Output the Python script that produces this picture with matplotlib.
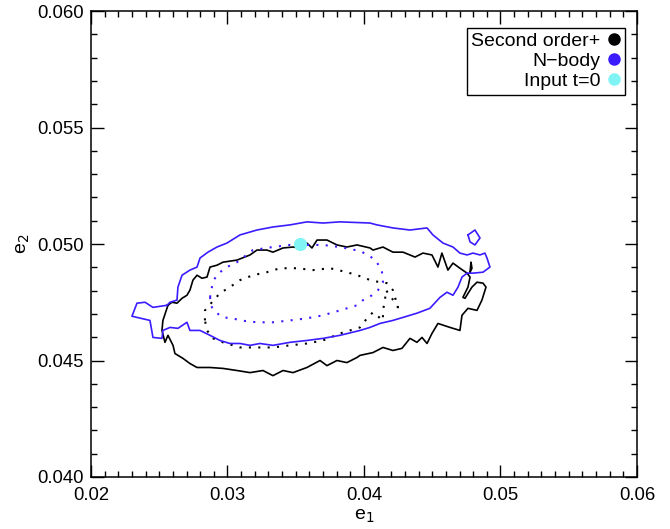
import numpy as np
import matplotlib
matplotlib.use('Agg')
import matplotlib.pyplot as plt
from matplotlib.lines import Line2D
from matplotlib.ticker import MultipleLocator

plt.rcParams['font.family'] = ['Liberation Sans', 'DejaVu Sans']

# contour traces (e1, e2)
nbody_outer_e1 = [0.02557, 0.02579, 0.02630, 0.02637, 0.02667, 0.02725, 0.02777, 0.02799, 0.02857, 0.02923,
                  0.02996, 0.03092, 0.03216, 0.03333, 0.03458, 0.03582, 0.03700, 0.03824, 0.04044, 0.04095,
                  0.04212, 0.04337, 0.04462, 0.04505, 0.04579, 0.04652, 0.04703, 0.04755, 0.04799, 0.04850,
                  0.04886, 0.04901, 0.04923, 0.04872, 0.04799, 0.04755, 0.04718, 0.04689, 0.04652, 0.04608,
                  0.04557, 0.04483, 0.04388, 0.04286, 0.04212, 0.04117, 0.04044, 0.03971, 0.03824, 0.03700,
                  0.03582, 0.03458, 0.03333, 0.03238, 0.03165, 0.03092, 0.03018, 0.02945, 0.02872, 0.02799,
                  0.02725, 0.02703, 0.02637, 0.02579, 0.02527, 0.02520, 0.02454, 0.02432, 0.02300, 0.02337,
                  0.02396, 0.02454, 0.02557]
nbody_outer_e2 = [0.04737, 0.04750, 0.04759, 0.04815, 0.04866, 0.04888, 0.04901, 0.04940, 0.04965, 0.04987,
                  0.05004, 0.05039, 0.05060, 0.05073, 0.05082, 0.05095, 0.05090, 0.05095, 0.05090, 0.05082,
                  0.05069, 0.05060, 0.05069, 0.05039, 0.05004, 0.04987, 0.04961, 0.04953, 0.04961, 0.04953,
                  0.04961, 0.04940, 0.04901, 0.04879, 0.04875, 0.04875, 0.04858, 0.04815, 0.04780, 0.04793,
                  0.04771, 0.04724, 0.04703, 0.04685, 0.04672, 0.04659, 0.04642, 0.04629, 0.04608, 0.04595,
                  0.04586, 0.04578, 0.04565, 0.04573, 0.04565, 0.04573, 0.04573, 0.04586, 0.04608, 0.04629,
                  0.04629, 0.04664, 0.04638, 0.04642, 0.04629, 0.04595, 0.04599, 0.04672, 0.04690, 0.04746,
                  0.04750, 0.04728, 0.04737]

nbody_islet_e1 = [0.04762, 0.04813, 0.04850, 0.04813, 0.04777, 0.04762]
nbody_islet_e2 = [0.05039, 0.05060, 0.05026, 0.04996, 0.05009, 0.05039]

nbody_inner_e1 = [0.02872, 0.02886, 0.02908, 0.02945, 0.02996, 0.03070, 0.03187, 0.03333, 0.03458, 0.03582,
                  0.03700, 0.03824, 0.03971, 0.04044, 0.04095, 0.04132, 0.04139, 0.04103, 0.04059, 0.03993,
                  0.03949, 0.03824, 0.03700, 0.03582, 0.03458, 0.03333, 0.03216, 0.03092, 0.03040, 0.02967,
                  0.02923, 0.02886, 0.02872]
nbody_inner_e2 = [0.04771, 0.04815, 0.04853, 0.04879, 0.04901, 0.04922, 0.04974, 0.04987, 0.04996, 0.04996,
                  0.04996, 0.04987, 0.04970, 0.04948, 0.04922, 0.04879, 0.04836, 0.04802, 0.04780, 0.04759,
                  0.04737, 0.04715, 0.04694, 0.04681, 0.04672, 0.04664, 0.04664, 0.04672, 0.04681, 0.04685,
                  0.04703, 0.04728, 0.04771]

second_outer_e1 = [0.02564, 0.02593, 0.02630, 0.02667, 0.02703, 0.02725, 0.02747, 0.02777, 0.02813, 0.02850,
                   0.02872, 0.02923, 0.02967, 0.03070, 0.03165, 0.03216, 0.03289, 0.03333, 0.03407, 0.03480,
                   0.03531, 0.03582, 0.03619, 0.03656, 0.03729, 0.03802, 0.03875, 0.03949, 0.04044, 0.04066,
                   0.04139, 0.04212, 0.04286, 0.04374, 0.04432, 0.04498, 0.04542, 0.04571, 0.04615, 0.04652,
                   0.04703, 0.04755, 0.04777, 0.04762, 0.04725, 0.04740, 0.04791, 0.04828, 0.04872, 0.04894,
                   0.04864, 0.04828, 0.04762, 0.04718, 0.04703, 0.04630, 0.04542, 0.04498, 0.04462, 0.04425,
                   0.04388, 0.04337, 0.04278, 0.04212, 0.04139, 0.04066, 0.03971, 0.03949, 0.03875, 0.03802,
                   0.03729, 0.03678, 0.03582, 0.03480, 0.03407, 0.03333, 0.03260, 0.03165, 0.03070, 0.02967,
                   0.02872, 0.02777, 0.02725, 0.02674, 0.02615, 0.02601, 0.02564, 0.02542, 0.02520, 0.02527,
                   0.02564]
second_outer_e2 = [0.04737, 0.04750, 0.04746, 0.04767, 0.04780, 0.04802, 0.04845, 0.04866, 0.04853, 0.04858,
                   0.04901, 0.04909, 0.04922, 0.04931, 0.04953, 0.04974, 0.04974, 0.04965, 0.04983, 0.04987,
                   0.04983, 0.05004, 0.04983, 0.05017, 0.05017, 0.04996, 0.04987, 0.04996, 0.04983, 0.04974,
                   0.04987, 0.04965, 0.04965, 0.04944, 0.04961, 0.04953, 0.04901, 0.04961, 0.04888, 0.04918,
                   0.04896, 0.04875, 0.04858, 0.04815, 0.04771, 0.04767, 0.04815, 0.04836, 0.04832, 0.04815,
                   0.04759, 0.04715, 0.04724, 0.04694, 0.04629, 0.04642, 0.04659, 0.04616, 0.04573, 0.04599,
                   0.04578, 0.04595, 0.04552, 0.04543, 0.04556, 0.04534, 0.04522, 0.04513, 0.04491, 0.04500,
                   0.04478, 0.04500, 0.04470, 0.04448, 0.04457, 0.04435, 0.04457, 0.04448, 0.04457, 0.04466,
                   0.04470, 0.04470, 0.04487, 0.04509, 0.04530, 0.04565, 0.04608, 0.04578, 0.04629, 0.04672,
                   0.04737]

second_islet_e1 = [0.04777, 0.04784, 0.04791, 0.04777]
second_islet_e2 = [0.04879, 0.04922, 0.04896, 0.04879]

second_inner_e1 = [0.02835, 0.02835, 0.02886, 0.02945, 0.03018, 0.03092, 0.03187, 0.03289, 0.03385, 0.03509,
                   0.03626, 0.03751, 0.03875, 0.03993, 0.04044, 0.04117, 0.04168, 0.04212, 0.04249, 0.04205,
                   0.04161, 0.04154, 0.04139, 0.04139, 0.04066, 0.04022, 0.03971, 0.03824, 0.03700, 0.03582,
                   0.03458, 0.03333, 0.03216, 0.03092, 0.03040, 0.02967, 0.02894, 0.02850, 0.02835]
second_inner_e2 = [0.04672, 0.04715, 0.04750, 0.04789, 0.04815, 0.04845, 0.04866, 0.04879, 0.04896, 0.04896,
                   0.04888, 0.04896, 0.04879, 0.04858, 0.04845, 0.04836, 0.04832, 0.04802, 0.04728, 0.04767,
                   0.04802, 0.04759, 0.04715, 0.04672, 0.04707, 0.04681, 0.04642, 0.04616, 0.04586, 0.04573,
                   0.04565, 0.04556, 0.04556, 0.04556, 0.04565, 0.04578, 0.04595, 0.04629, 0.04672]

input_e1 = [0.0353]
input_e2 = [0.0500]

legend_labels = ['Second order+', 'N\u2212body', 'Input t=0']

black = 'black'
blue = '#3a1cff'
cyan = '#80f4f4'

fig = plt.figure(figsize=(6.7, 5.29), dpi=100)
ax = fig.add_axes([0.1358, 0.0983, 0.8149, 0.8809])

dots = (0, (1, 3.5))
ax.plot(second_outer_e1, second_outer_e2, color=black, lw=1.2)
ax.plot(second_islet_e1, second_islet_e2, color=black, lw=1.2)
ax.plot(second_inner_e1, second_inner_e2, color=black, lw=1.5, ls=dots)
ax.plot(nbody_outer_e1, nbody_outer_e2, color=blue, lw=1.2)
ax.plot(nbody_islet_e1, nbody_islet_e2, color=blue, lw=1.2)
ax.plot(nbody_inner_e1, nbody_inner_e2, color=blue, lw=1.5, ls=dots)
ax.plot(input_e1, input_e2, 'o', color=cyan, ms=8.5, zorder=5)

ax.set_xlim(0.02, 0.06)
ax.set_ylim(0.040, 0.060)
ax.xaxis.set_major_locator(MultipleLocator(0.01))
ax.xaxis.set_minor_locator(MultipleLocator(0.001))
ax.yaxis.set_major_locator(MultipleLocator(0.005))
ax.yaxis.set_minor_locator(MultipleLocator(0.001))
ax.set_xticklabels(['%.2f' % v for v in ax.get_xticks()])
ax.set_yticklabels(['%.3f' % v for v in ax.get_yticks()])
ax.tick_params(which='both', direction='in', top=True, right=True, labelsize=13.3, width=1)
ax.tick_params(which='major', length=9)
ax.tick_params(axis='y', which='major', pad=5)
ax.tick_params(axis='x', which='major', pad=7)
ax.tick_params(which='minor', length=4.5)
for s in ax.spines.values():
    s.set_linewidth(1.1)

ax.set_xlabel('e$_1$', fontsize=14, labelpad=3)
ax.set_ylabel('e$_2$', fontsize=14, labelpad=4)

handles = [Line2D([], [], ls='none', marker='o', color=c, ms=8) for c in (black, blue, cyan)]
leg = ax.legend(handles, legend_labels, loc='upper right', bbox_to_anchor=(0.978, 0.964),
                markerfirst=False, fancybox=False, framealpha=1, edgecolor='black',
                fontsize=14, handlelength=0.6, handletextpad=0.4, labelspacing=0.12,
                borderpad=0.25, borderaxespad=0)
leg.get_frame().set_linewidth(1.0)

fig.savefig('out.png', dpi=100)
